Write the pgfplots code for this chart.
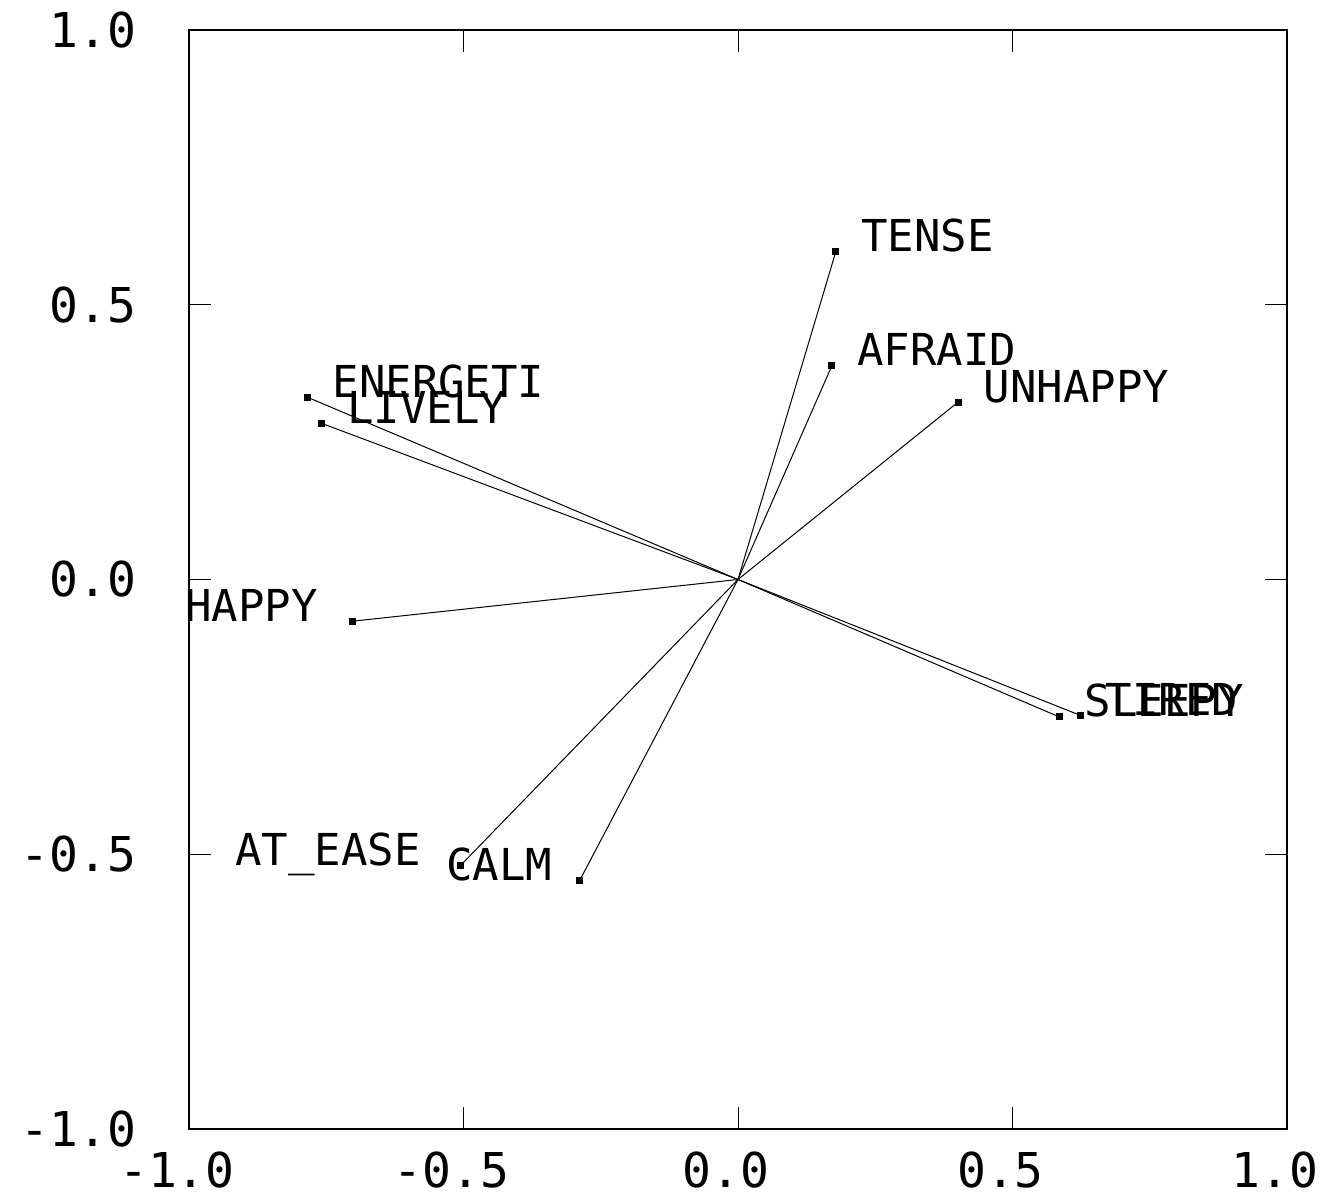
\documentclass[border=0pt]{standalone}
\usepackage{fontspec}
\setmainfont{DejaVu Sans Mono}
\usepackage{pgfplots}
\pgfplotsset{compat=1.18}
\tikzset{
  lbl/.style={anchor=base west, inner sep=0pt, xshift=25pt, font=\fontsize{44}{50}\selectfont},
  lbll/.style={anchor=base east, inner sep=0pt, font=\fontsize{44}{50}\selectfont},
  vec/.style={black, solid, line width=1pt, mark=square*, mark indices={2}, mark size=3pt, mark options={solid, fill=black}},
}
\begin{document}
\fontsize{44}{50}\selectfont
\begin{tikzpicture}
\begin{axis}[
  scale only axis,
  width=1098pt, height=1099pt,
  xmin=-1, xmax=1, ymin=-1, ymax=1,
  xtick={-1,-0.5,0,0.5,1},
  ytick={-1,-0.5,0,0.5,1},
  tick align=inside,
  major tick length=22pt,
  tick style={black, line width=1pt},
  axis line style={line width=1.2pt},
  xticklabel={\pgfmathprintnumber[fixed,fixed zerofill,precision=1]{\tick}},
  yticklabel={\pgfmathprintnumber[fixed,fixed zerofill,precision=1]{\tick}},
  /pgf/number format/assume math mode=true,
  ticklabel style={font=\fontsize{48}{54}\selectfont},
  xticklabel style={xshift=-12pt, yshift=-8pt},
  yticklabel style={xshift=-38pt},
  clip=false,
]
\addplot[vec] coordinates {(0,0) (0.178,0.596)} node[lbl, pos=1] {TENSE};
\addplot[vec] coordinates {(0,0) (0.171,0.389)} node[lbl, pos=1] {AFRAID};
\addplot[vec] coordinates {(0,0) (0.401,0.323)} node[lbl, pos=1] {UNHAPPY};
\addplot[vec] coordinates {(0,0) (-0.785,0.332)} node[lbl, pos=1] {ENERGETI};
\addplot[vec] coordinates {(0,0) (-0.758,0.284)} node[lbl, pos=1] {LIVELY};
\addplot[vec] coordinates {(0,0) (-0.703,-0.076)} node[lbll, pos=1, xshift=-34pt] {HAPPY};
\addplot[vec] coordinates {(0,0) (0.585,-0.250)} node[lbl, pos=1] {SLEEPY};
\addplot[vec] coordinates {(0,0) (0.623,-0.247)} node[lbl, pos=1] {TIRED};
\addplot[vec] coordinates {(0,0) (-0.506,-0.521)} node[lbll, pos=1, xshift=-39pt] {AT\_EASE};
\addplot[vec] coordinates {(0,0) (-0.288,-0.547)} node[lbll, pos=1, xshift=-27pt] {CALM};
\end{axis}
\pgfresetboundingbox
\path[use as bounding box] ([xshift=-189pt,yshift=-73pt]current axis.south west) rectangle ([xshift=38pt,yshift=30pt]current axis.north east);
\end{tikzpicture}
\end{document}
